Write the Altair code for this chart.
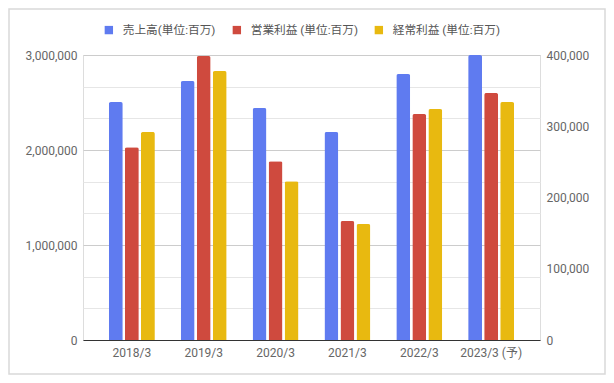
import altair as alt
import pandas as pd

years = ["2018/3", "2019/3", "2020/3", "2021/3", "2022/3", "2023/3 (予)"]
series_names = ["売上高(単位:百万)", "営業利益 (単位:百万)", "経常利益 (単位:百万)"]
sales = [2505000, 2726000, 2442000, 2189000, 2800000, 3000000]
operating = [270500, 398600, 250800, 167000, 317200, 346700]
ordinary = [292000, 377500, 222700, 162800, 324200, 334000]
colors = ["#5f7bf0", "#cf4a3e", "#e8b910"]
left_ticks = [0, 1000000 / 3, 2000000 / 3, 1000000, 4000000 / 3, 5000000 / 3,
              2000000, 7000000 / 3, 8000000 / 3, 3000000]
right_ticks = [0, 100000, 200000, 300000, 400000]

rows = []
for name, vals in zip(series_names, [sales, operating, ordinary]):
    for y, v in zip(years, vals):
        rows.append({"year": y, "series": name, "value": v})
df = pd.DataFrame(rows)

FONT = "Roboto, 'Noto Sans CJK JP', sans-serif"

x_enc = alt.X("year:N", sort=years, title=None,
              scale=alt.Scale(paddingInner=0.36, paddingOuter=0.36),
              axis=alt.Axis(labelAngle=0, ticks=False, domainColor="#333333",
                            domainWidth=1, labelColor="#666666", labelFontSize=12,
                            labelFont=FONT, labelPadding=7, grid=False))
xoff = alt.XOffset("series:N", sort=series_names,
                   scale=alt.Scale(domain=series_names, paddingInner=0.13, paddingOuter=0))
color = alt.Color("series:N", sort=series_names,
                  scale=alt.Scale(domain=series_names, range=colors),
                  legend=alt.Legend(orient="none", legendX=20, legendY=-31,
                                    direction="horizontal", title=None,
                                    symbolType="square", symbolSize=70,
                                    symbolStrokeWidth=0, labelFontSize=11.7,
                                    labelFont=FONT, labelColor="#555555",
                                    columnPadding=15, labelOffset=8))

base = alt.Chart(df)

left = base.transform_filter(alt.datum.series == series_names[0]).mark_bar(
    cornerRadiusTopLeft=2, cornerRadiusTopRight=2
).encode(
    x=x_enc, xOffset=xoff, color=color,
    y=alt.Y("value:Q", title=None,
            scale=alt.Scale(domain=[0, 3000000], nice=False),
            axis=alt.Axis(orient="left", values=left_ticks,
                          labelExpr="abs(datum.value % 1000000) < 1 ? format(datum.value, ',') : ''",
                          ticks=False, domain=False, labelPadding=6,
                          labelColor="#666666", labelFontSize=12, labelFont=FONT,
                          grid=True,
                          gridColor={"condition": {"test": "abs(datum.value % 1000000) < 1",
                                                   "value": "#cccccc"},
                                     "value": "#e6e6e6"})),
)

right = base.transform_filter(alt.datum.series != series_names[0]).mark_bar(
    cornerRadiusTopLeft=2, cornerRadiusTopRight=2
).encode(
    x=x_enc, xOffset=xoff, color=color,
    y=alt.Y("value:Q", title=None,
            scale=alt.Scale(domain=[0, 400000], nice=False),
            axis=alt.Axis(orient="right", values=right_ticks,
                          labelExpr="format(datum.value, ',')",
                          ticks=False, domain=False, grid=False, labelPadding=6,
                          labelColor="#666666", labelFontSize=12, labelFont=FONT)),
)

border = alt.Chart(alt.Data(values=[{}])).mark_rect(
    fill=None, stroke="#d9d9d9", strokeWidth=1.5
).encode(
    x=alt.value(-74), x2=alt.value(522), y=alt.value(-46), y2=alt.value(319)
)

chart = alt.layer(left, right, border).resolve_scale(y="independent").properties(
    width=457, height=285,
    padding={"left": 75, "top": 47, "right": 66, "bottom": 35},
    autosize=alt.AutoSizeParams(type="none"),
).configure_view(stroke=None).configure(background="white")

chart.save("out.html", embed_options={"renderer": "svg", "actions": False})
